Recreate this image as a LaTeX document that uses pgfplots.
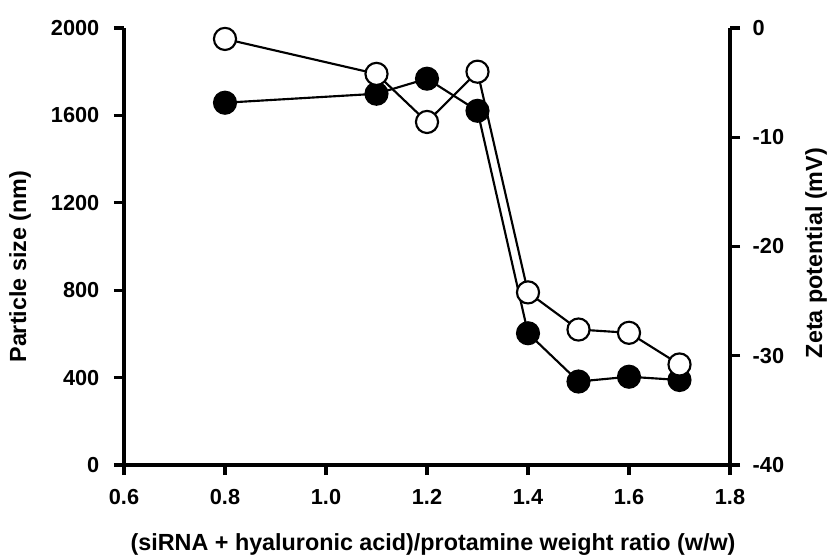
\documentclass[border=0pt]{standalone}
\usepackage{fontspec}
\setmainfont{Liberation Sans}
\usepackage{pgfplots}
\pgfplotsset{compat=1.18}
\newlength\px
\setlength\px{0.75pt}

\pgfplotsset{
  twinbase/.style={
    scale only axis, width=606\px, height=437\px,
    xmin=0.6, xmax=1.8,
    clip=false,
    axis line style={-, line width=2.4pt, black},
    tick align=outside,
    major tick length=7.5pt,
    tick style={line width=2.4pt, black},
    /pgf/number format/assume math mode=true,
    tick label style={font=\bfseries\fontsize{16.3}{16}\selectfont},
    label style={font=\bfseries\fontsize{17.5}{18}\selectfont},
  },
}

\begin{document}
\begin{tikzpicture}
\useasboundingbox (-124\px,-91\px) rectangle (703\px,465\px);

% particle size (left axis, filled circles)
\begin{axis}[
  twinbase,
  ymin=0, ymax=2000,
  axis x line*=bottom, axis y line*=left,
  xtick={0.6,0.8,1.0,1.2,1.4,1.6,1.8},
  ytick={0,400,800,1200,1600,2000},
  xticklabel style={yshift=-10\px, /pgf/number format/.cd, fixed, fixed zerofill, precision=1},
  yticklabel style={xshift=-10\px, /pgf/number format/1000 sep={}},
  xlabel={(siRNA + hyaluronic acid)/protamine weight ratio (w/w)},
  ylabel={Particle size (nm)},
  xlabel style={at={(axis description cs:0.51,-0.183)}, anchor=center},
  ylabel style={at={(axis description cs:-0.1716,0.454)}, anchor=center, rotate=0},
]
\addplot[black, line width=1.6pt, mark=*, mark size=8.3pt,
  mark options={fill=black, draw=black, line width=1.5pt}]
  coordinates {(0.8,1658) (1.1,1699) (1.2,1768) (1.3,1621) (1.4,603) (1.5,382) (1.6,404) (1.7,389)};
\end{axis}

% zeta potential (right axis, open circles)
\begin{axis}[
  twinbase,
  ymin=-40, ymax=0,
  axis x line=none, axis y line*=right,
  ytick={-40,-30,-20,-10,0},
  yticklabel style={xshift=8\px},
  ylabel={Zeta potential (mV)},
  ylabel style={at={(axis description cs:1.142,0.485)}, anchor=center, rotate=0},
]
\addplot[black, line width=1.6pt, mark=*, mark size=8.3pt,
  mark options={fill=white, draw=black, line width=1.6pt}]
  coordinates {(0.8,-1.0) (1.1,-4.2) (1.2,-8.6) (1.3,-4.0) (1.4,-24.2) (1.5,-27.6) (1.6,-27.9) (1.7,-30.8)};
\end{axis}
\end{tikzpicture}
\end{document}
